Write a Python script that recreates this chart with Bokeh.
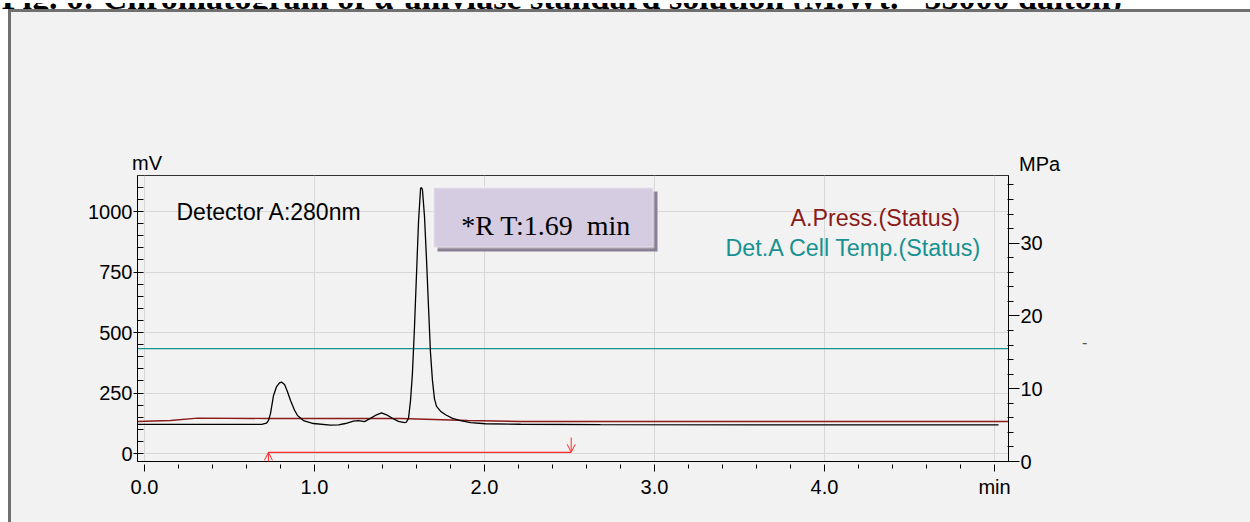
from bokeh.plotting import figure
from bokeh.models import (Range1d, LinearAxis, FixedTicker, Label, BoxAnnotation,
                          Arrow, OpenHead, Div)
from bokeh.layouts import column, row
from bokeh.embed import file_html
from bokeh.resources import INLINE

# ---------------- data ----------------
title_text = "Fig. 6: Chromatogram of \u03b1-amylase standard solution (M.Wt. ~55000 dalton)"

trace_t = [-0.041, 0.30, 0.624, 0.694, 0.718, 0.729, 0.741, 0.759, 0.776, 0.794,
           0.806, 0.824, 0.841, 0.859, 0.882, 0.900, 0.935, 0.994, 1.094, 1.141,
           1.182, 1.229, 1.259, 1.294, 1.329, 1.365, 1.394, 1.424, 1.459, 1.494,
           1.529, 1.541, 1.553, 1.565, 1.576, 1.588, 1.600, 1.612, 1.624, 1.629,
           1.635, 1.647, 1.659, 1.671, 1.682, 1.694, 1.706, 1.718, 1.741, 1.771,
           1.812, 1.859, 1.918, 2.006, 2.212, 2.682, 5.024]
trace_mv = [120, 120, 120, 121, 126, 136, 165, 240, 275, 292,
            295, 285, 255, 219, 180, 157, 136, 124, 117, 118,
            124, 134, 136, 132, 145, 160, 168, 160, 145, 133,
            128, 130, 145, 220, 330, 520, 740, 960, 1095, 1099,
            1090, 980, 800, 600, 420, 300, 225, 195, 175, 160,
            145, 136, 128, 123, 121, 119, 118]

press_t = [-0.041, 0.153, 0.312, 0.724, 1.506, 1.900, 2.212, 5.082]
press_mpa = [5.50, 5.64, 5.96, 5.91, 5.91, 5.64, 5.50, 5.50]

temp_t = [-0.041, 5.082]
temp_mpa = [15.5, 15.5]

integ_start_t = 0.729
integ_end_t = 2.51
integ_level_mv = 5
integ_start_low_mv = -45
integ_end_high_mv = 66

rt_text = "*R T:1.69\u00a0 min"
detector_text = "Detector A:280nm"
legend_press = "A.Press.(Status)"
legend_temp = "Det.A Cell Temp.(Status)"
left_unit = "mV"
right_unit = "MPa"

x_ticks = [0, 1, 2, 3, 4, 5]
x_tick_labels = ["0.0", "1.0", "2.0", "3.0", "4.0", "min"]
mv_ticks = [0, 250, 500, 750, 1000]
mpa_ticks = [0, 10, 20, 30]

# ---------------- layout (canvas pixels) ----------------
W, H = 1250, 522
FL, FR, FT, FB = 137, 1008, 175, 461      # plot frame on the page
PAGE_X, PAGE_Y = 11, 12                    # inner page origin (after grey border)
HEAD_H = 161                               # header strip above the figure
FIG_X, FIG_Y = PAGE_X, PAGE_Y + HEAD_H     # figure origin on the page
FIG_W = 1070 - FIG_X
FIG_H = H - FIG_Y
SANS = "Liberation Sans"
SERIF = "Liberation Serif"
BG = "#f2f2f2"


def sx(px):          # page x -> frame-relative screen x
    return px - FL


def sy(py):          # page y -> frame-relative screen y (from frame bottom)
    return FB - py


p = figure(width=FIG_W, height=FIG_H, output_backend="svg", toolbar_location=None,
           x_range=Range1d(-0.0412, 5.0824), y_range=Range1d(-33, 1148.8),
           min_border_left=FL - FIG_X, min_border_right=FIG_X + FIG_W - FR,
           min_border_top=FT - FIG_Y, min_border_bottom=FIG_Y + FIG_H - FB,
           background_fill_color=BG, border_fill_color=BG, margin=0,
           styles={"background-color": BG})
p.extra_y_ranges = {"mpa": Range1d(0, 39.3)}

# axes
xa = p.xaxis[0]
xa.ticker = FixedTicker(ticks=x_ticks, minor_ticks=[i / 5 for i in range(26) if i % 5])
xa.major_label_overrides = dict(zip(x_ticks, x_tick_labels))
xa.axis_line_color = "black"
xa.major_tick_in = -3
xa.major_tick_out = 10
xa.minor_tick_in = -3
xa.minor_tick_out = 7
xa.major_tick_line_color = "black"
xa.minor_tick_line_color = "black"
xa.major_label_text_font = SANS
xa.major_label_text_font_size = "20px"
xa.major_label_text_color = "black"
xa.major_label_standoff = 4

ya = p.yaxis[0]
ya.ticker = FixedTicker(ticks=mv_ticks, minor_ticks=[i * 50 for i in range(-1, 23) if i % 5])
ya.axis_line_color = "black"
ya.major_tick_in = 6
ya.major_tick_out = 4
ya.minor_tick_in = 6
ya.minor_tick_out = 0
ya.major_label_text_font = SANS
ya.major_label_text_font_size = "20px"
ya.major_label_text_color = "black"
ya.major_label_standoff = 1

ra = LinearAxis(y_range_name="mpa",
                ticker=FixedTicker(ticks=mpa_ticks, minor_ticks=[i * 2 for i in range(1, 20) if i % 5]))
ra.axis_line_color = "black"
ra.major_tick_in = 0
ra.major_tick_out = 11
ra.minor_tick_in = 1
ra.minor_tick_out = 5
ra.major_label_text_font = SANS
ra.major_label_text_font_size = "20px"
ra.major_label_text_color = "black"
ra.major_label_standoff = 1
p.add_layout(ra, "right")

p.xgrid.grid_line_color = "#d7d7d7"
p.ygrid.grid_line_color = "#d7d7d7"
p.outline_line_color = "#333333"
p.outline_line_width = 1

# traces
p.line(temp_t, temp_mpa, y_range_name="mpa", line_color="#179191", line_width=1.2)
p.line(press_t, press_mpa, y_range_name="mpa", line_color="#8b1a1a", line_width=1.4)
p.line(trace_t, trace_mv, line_color="black", line_width=1.3)

# integration marker
RED = "#ff2a2a"
p.line([integ_start_t, integ_end_t], [integ_level_mv, integ_level_mv],
       line_color=RED, line_width=1.2)
p.add_layout(Arrow(x_start=integ_start_t, y_start=integ_start_low_mv,
                   x_end=integ_start_t, y_end=integ_level_mv,
                   line_color=RED, line_width=1,
                   end=OpenHead(size=8, line_color=RED, line_width=1)))
p.add_layout(Arrow(x_start=integ_end_t, y_start=integ_end_high_mv,
                   x_end=integ_end_t, y_end=integ_level_mv,
                   line_color=RED, line_width=1,
                   end=OpenHead(size=8, line_color=RED, line_width=1)))


def box(l, t, r, b, **kw):
    p.add_layout(BoxAnnotation(left=sx(l), right=sx(r), top=sy(t), bottom=sy(b),
                               left_units="screen", right_units="screen",
                               top_units="screen", bottom_units="screen",
                               fill_alpha=1.0, **kw))


# retention-time box (shadow, then body)
box(437, 191, 657, 251, fill_color="#8a8094", line_color=None)
box(433, 187, 653, 247, fill_color="#d5cce2", line_color="white", line_width=2.5)


def label(text, px, py, size, color="black", font=SANS, align="left"):
    p.add_layout(Label(x=sx(px), y=sy(py), x_units="screen", y_units="screen",
                       text=text, text_font=font, text_font_size=size,
                       text_color=color, text_align=align, text_baseline="alphabetic"))


label(rt_text, 545.5, 225, "28px", font=SERIF, align="center")
label(detector_text, 176, 211, "23px")
label(legend_press, 790, 217, "23.3px", color="#8b1a1a")
label(legend_temp, 725, 247, "23.3px", color="#179191")

# ---------------- page chrome (HTML) ----------------
title_div = Div(
    text=('<div style="position:relative;width:%dpx;height:9px;overflow:hidden;">'
          '<div style="position:absolute;right:128px;top:-22.5px;white-space:nowrap;'
          "font-family:'Liberation Serif';font-weight:bold;font-size:34px;"
          'line-height:34px;color:black;">%s</div></div>') % (W, title_text),
    width=W, height=9, margin=0,
    styles={"background-color": "white", "overflow": "hidden"})

line_div = Div(text="", width=W, height=3, margin=0,
               styles={"background": "linear-gradient(to right, white 8px, #707070 8px)"})

left_white = Div(text="", width=8, height=H - PAGE_Y, margin=0,
                 styles={"background-color": "white"})
left_grey = Div(text="", width=3, height=H - PAGE_Y, margin=0,
                styles={"background-color": "#707070"})

head_div = Div(
    text=('<div style="position:relative;width:%dpx;height:%dpx;'
          "font-family:'Liberation Sans';font-size:20px;line-height:16px;color:black;\">"
          '<span style="position:absolute;left:%dpx;top:%dpx;white-space:nowrap;">%s</span>'
          '<span style="position:absolute;left:%dpx;top:%dpx;white-space:nowrap;">%s</span>'
          '</div>') % (W - PAGE_X, HEAD_H, 132 - PAGE_X, 170 - PAGE_Y - 15, left_unit,
                       1019 - PAGE_X, 171 - PAGE_Y - 15, right_unit),
    width=W - PAGE_X, height=HEAD_H, margin=0,
    styles={"background-color": BG, "overflow": "hidden"})

right_div = Div(
    text=('<div style="position:relative;width:%dpx;height:%dpx;'
          "font-family:'Liberation Sans';font-size:16px;line-height:16px;color:#555555;\">"
          '<span style="position:absolute;left:%dpx;top:%dpx;">-</span></div>')
         % (W - FIG_X - FIG_W, FIG_H, 1082 - FIG_X - FIG_W, 344 - FIG_Y - 9),
    width=W - FIG_X - FIG_W, height=FIG_H, margin=0,
    styles={"background-color": BG, "overflow": "hidden"})

layout = column(title_div, line_div,
                row(left_white, left_grey,
                    column(head_div, row(p, right_div, spacing=0), spacing=0), spacing=0),
                spacing=0)

open("out.html", "w").write(file_html(layout, INLINE))
